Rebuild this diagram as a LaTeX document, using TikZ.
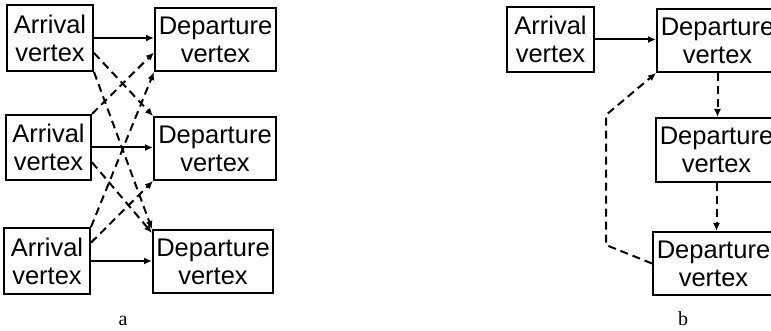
\documentclass[tikz,border=0pt]{standalone}
\usepackage{fontspec}
\setmainfont{Liberation Sans}
\newfontfamily\capfont{Liberation Serif}
\usetikzlibrary{arrows.meta,calc}
\begin{document}
\begin{tikzpicture}[x=1pt,y=-1pt,
  vbox/.style={draw,line width=2pt,inner sep=0pt,align=center,
    font=\fontsize{25.5}{28}\selectfont},
  conn/.style={line width=2pt,-{Latex[length=8pt,width=7pt]}},
  dconn/.style={conn,dash pattern=on 8pt off 5pt},
  caption/.style={font=\capfont\fontsize{20}{22}\selectfont}]
\useasboundingbox (0,0) rectangle (771,331);
\clip (0,0) rectangle (771,331);
% panel a
\node[vbox,minimum width=86pt,minimum height=66pt] (a1) at (50,38) {Arrival\\vertex};
\node[vbox,minimum width=85pt,minimum height=65pt] (a2) at (48.5,147.5) {Arrival\\vertex};
\node[vbox,minimum width=86pt,minimum height=66pt] (a3) at (47,261) {Arrival\\vertex};
\node[vbox,minimum width=121pt,minimum height=63pt] (d1) at (215.5,39.5) {Departure\\vertex};
\node[vbox,minimum width=122pt,minimum height=63pt] (d2) at (215,148.5) {Departure\\vertex};
\node[vbox,minimum width=120pt,minimum height=63pt] (d3) at (213,261.5) {Departure\\vertex};
\node[caption] (la) at (123,321) {a};
% solid
\draw[conn] (a1.east) -- (a1.east -| d1.west);
\draw[conn] (a2.east) -- (a2.east -| d2.west);
\draw[conn] (a3.east) -- (a3.east -| d3.west);
% dashed
\draw[dconn] ($(a1.north east)!0.72!(a1.south east)$) -- (d2.north west);
\draw[dconn] (a1.south east) -- (d3.north west);
\draw[dconn] (a2.north east) -- ($(d1.north west)!0.7!(d1.south west)$);
\draw[dconn] ($(a2.north east)!0.72!(a2.south east)$) -- ($(d3.north west)+(0,4)$);
\draw[dconn] (a3.north east) -- (d1.south west);
\draw[dconn] ($(a3.north east)!0.23!(a3.south east)$) -- (d2.south west);
% panel b
\node[vbox,minimum width=87pt,minimum height=65pt] (ba) at (550.5,39.5) {Arrival\\vertex};
\node[vbox,minimum width=121pt,minimum height=63pt] (b1) at (717.5,40.5) {Departure\\vertex};
\node[vbox,minimum width=121pt,minimum height=64pt] (b2) at (716.5,150) {Departure\\vertex};
\node[vbox,minimum width=121pt,minimum height=63pt] (b3) at (713.5,263.5) {Departure\\vertex};
\node[caption] (lb) at (683,319) {b};
\coordinate (c1) at (606,245);
\coordinate (c2) at (606,115);
\draw[conn] (ba.east) -- (ba.east -| b1.west);
\draw[dconn] (b1.south) -- (b1.south |- b2.north);
\draw[dconn] (b2.south) -- (b2.south |- b3.north);
\draw[dconn] (b3.west) -- (c1) -- (c2) -- (b1.south west);
\end{tikzpicture}
\end{document}
